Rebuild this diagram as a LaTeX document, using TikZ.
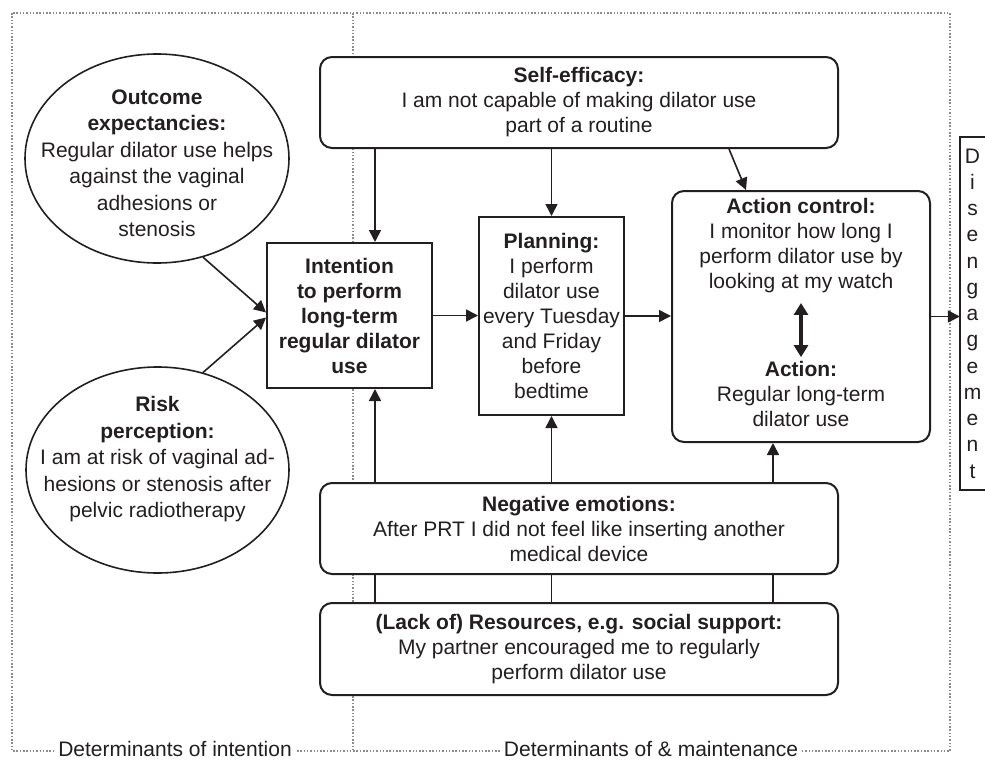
\documentclass[tikz,border=0pt]{standalone}
\usepackage{fontspec}
\setmainfont{Liberation Sans}
\usepackage{tikz}
\usetikzlibrary{shapes}
\usetikzlibrary{positioning}
\usetikzlibrary{arrows.meta}
\definecolor{ink}{HTML}{231F20}
\definecolor{dotgray}{HTML}{8C8C8C}
\tikzset{
    mybox/.style = {rectangle, line width=2pt, draw=ink, fill=white, align=center, text=ink, inner sep=0pt},
    myboxr/.style = {mybox, rounded corners=12pt},
    mybubble/.style = {ellipse, line width=1.6pt, draw=ink, fill=white, inner sep=0pt},
    mytext/.style = {align=center, text=ink, inner sep=0pt},
    mylabel/.style = {mytext, fill=white, inner xsep=3pt, anchor=base},
    edgea/.style = {-{Triangle[length=12pt,width=12pt]}, line width=1.6pt, ink},
    edgen/.style = {-, line width=1.6pt, ink},
    edgeb/.style = {{Triangle[length=12pt,width=14pt]}-{Triangle[length=12pt,width=14pt]}, line width=3.5pt, ink},
    edgegd/.style = {-, line width=1.5pt, dotgray, dash pattern=on 1.5pt off 1.8pt}, % frame
    bubblefont/.style = {font=\fontsize{21}{26.5}\selectfont}
}

\begin{document}
\begin{tikzpicture}[x=1pt, y=-1pt, font=\fontsize{21}{25}\selectfont]
  \useasboundingbox (0,0) rectangle (985,763);
  % frame
  \draw[edgegd] (12,13) rectangle (950,751);
  \draw[edgegd] (353,13) -- (353,751);
  \node[mylabel] (lblint) at (175,756.5) {Determinants of intention};
  \node[mylabel] (lblmain) at (651,756.5) {Determinants of \& maintenance};

  \node[myboxr, minimum width=518pt, minimum height=91pt] (self) at (579,102.5)
    {\textbf{Self-efficacy:}\\I am not capable of making dilator use\\part of a routine};

  \node[mybubble, minimum width=264pt, minimum height=209pt] (outcome) at (157,158.5) {};
  \node[mytext, bubblefont] (outcometxt) at (157,163.5)
    {\textbf{Outcome}\\\textbf{expectancies:}\\Regular dilator use helps\\against the vaginal\\adhesions or\\stenosis};
  \node[mybubble, minimum width=263pt, minimum height=206pt] (risk) at (157.5,470) {};
  \node[mytext, bubblefont] (risktxt) at (157.5,459.5)
    {\textbf{Risk}\\\textbf{perception:}\\I am at risk of vaginal ad-\\hesions or stenosis after\\pelvic radiotherapy};

  \node[mybox, minimum width=165pt, minimum height=145pt, font=\fontsize{21}{25}\selectfont\bfseries] (intent) at (349.5,315.5)
    {Intention\\to perform\\long-term\\regular dilator\\use};
  \node[mybox, minimum width=145pt, minimum height=198pt] (plan) at (551.5,316)
    {\textbf{Planning:}\\I perform\\dilator use\\every Tuesday\\and Friday\\before\\bedtime};

  \node[myboxr, minimum width=258pt, minimum height=251pt] (act) at (801,316.5) {};
  \node[mytext] (acttop) at (801,245.5)
    {\textbf{Action control:}\\I monitor how long I\\perform dilator use by\\looking at my watch};
  \node[mytext] (actbot) at (801,394)
    {\textbf{Action:}\\Regular long-term\\dilator use};
  \draw[edgeb, shorten <=10pt, shorten >=4pt] (acttop.south) -- (actbot.north);

  \node[myboxr, minimum width=518pt, minimum height=91pt] (neg) at (579,528.5)
    {\textbf{Negative emotions:}\\After PRT I did not feel like inserting another\\medical device};
  \node[myboxr, minimum width=518pt, minimum height=92pt] (res) at (579,649)
    {\textbf{(Lack of) Resources, e.g. social support:}\\My partner encouraged me to regularly\\perform dilator use};

  \node[mytext, minimum width=25pt, minimum height=353pt, font=\fontsize{21}{26.25}\selectfont] (diseng) at (972.5,313.5)
    {D\\i\\s\\e\\n\\g\\a\\g\\e\\m\\e\\n\\t};
  \draw[line width=2pt, ink] (diseng.north east) -- (diseng.north west) -- (diseng.south west) -- (diseng.south east);

  \coordinate (colint) at (375,0);
  \coordinate (colact) at (773,0);

  \draw[edgea] (self.south -| colint) -- (intent.north -| colint);
  \draw[edgea] (self.south -| plan) -- (plan.north);
  \draw[edgea] ([xshift=150pt]self.south) -- ([xshift=-55pt]act.north);
  \draw[edgea] (outcome.-65) -- ([yshift=3pt]intent.west);
  \draw[edgea] (risk.65) -- ([yshift=-2pt]intent.west);
  \draw[edgea] (intent.east) -- (intent.east -| plan.west);
  \draw[edgea] (plan.east) -- (plan.east -| act.west);
  \draw[edgea] (act.east) -- (act.east -| diseng.west);
  \draw[edgea] (neg.north -| colint) -- (intent.south -| colint);
  \draw[edgea] (neg.north -| plan) -- (plan.south);
  \draw[edgea] (neg.north -| colact) -- (act.south -| colact);
  \foreach \c in {colint, plan, colact}
    \draw[edgen] (res.north -| \c) -- (neg.south -| \c);
\end{tikzpicture}
\end{document}
